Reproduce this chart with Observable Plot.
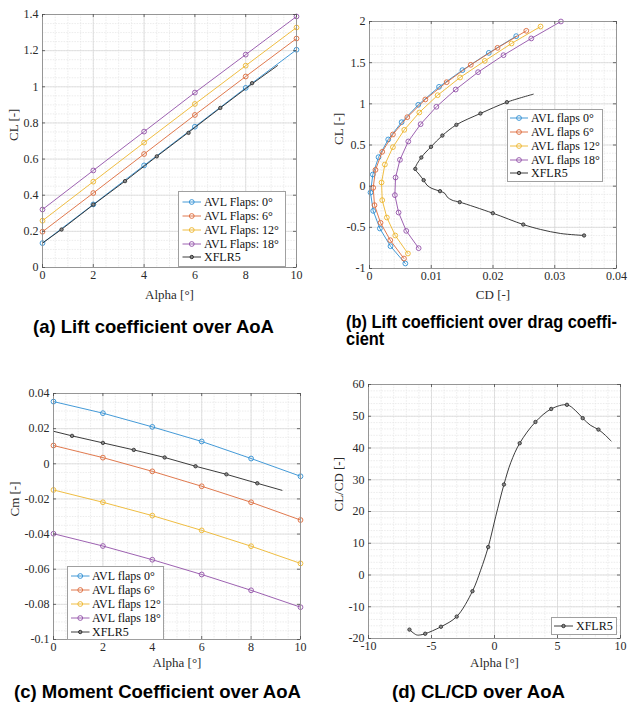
<!DOCTYPE html>
<html><head><meta charset="utf-8">
<script src="https://cdn.jsdelivr.net/npm/d3@7"></script>
<script src="https://cdn.jsdelivr.net/npm/@observablehq/plot@0.6"></script>
<style>
body{margin:0;background:#fff;}
#fig{position:relative;width:629px;height:706px;overflow:hidden;background:#fff;}
.panel{position:absolute;}
.cap{position:absolute;font-family:"Liberation Sans",Arial,Helvetica,sans-serif;font-weight:bold;font-size:18.5px;line-height:16px;white-space:nowrap;transform-origin:0 0;color:#000;}
.legend{position:absolute;background:#fff;border:1px solid #a0a0a0;box-sizing:border-box;font-family:"Liberation Serif","Times New Roman",serif;font-size:12px;color:#111;}
.legend .row{position:absolute;left:0;height:14px;line-height:14px;white-space:nowrap;}
.legend .row span{position:absolute;top:0;}
.legend svg{position:absolute;top:0;left:0;}
</style></head><body><div id="fig"></div><script>
// ---------- data ----------
const alphaAVL = [0, 2, 4, 6, 8, 10];
const clAVL0  = [0.135, 0.349, 0.565, 0.779, 0.994, 1.205];
const clAVL6  = [0.198, 0.412, 0.628, 0.844, 1.057, 1.267];
const clAVL12 = [0.259, 0.475, 0.691, 0.905, 1.117, 1.328];
const clAVL18 = [0.321, 0.537, 0.752, 0.968, 1.178, 1.389];

const cmAVL0  = [0.0354, 0.0288, 0.0210, 0.0127, 0.0030, -0.0071];
const cmAVL6  = [0.0104, 0.0035, -0.0043, -0.0128, -0.0219, -0.0320];
const cmAVL12 = [-0.0149, -0.0219, -0.0295, -0.0379, -0.0469, -0.0567];
const cmAVL18 = [-0.0398, -0.0468, -0.0546, -0.0630, -0.0720, -0.0816];

const polarCL0  = [1.822, 1.619, 1.409, 1.206, 0.988, 0.777, 0.567, 0.352, 0.142, -0.077, -0.300, -0.514, -0.729, -0.939];
const polarCD0  = [0.02376, 0.01932, 0.01505, 0.01126, 0.00790, 0.00520, 0.00303, 0.00146, 0.00054, 0.00016, 0.00060, 0.00168, 0.00340, 0.00580];
const polarCL6  = [1.887, 1.680, 1.474, 1.263, 1.053, 0.838, 0.628, 0.417, 0.198, -0.020, -0.231, -0.445, -0.656, -0.879];
const polarCD6  = [0.02539, 0.02073, 0.01640, 0.01250, 0.00904, 0.00612, 0.00379, 0.00206, 0.00097, 0.00060, 0.00081, 0.00179, 0.00336, 0.00558];
const polarCL12 = [1.939, 1.733, 1.522, 1.320, 1.105, 0.895, 0.684, 0.474, 0.263, 0.045, -0.170, -0.381, -0.599, -0.818];
const polarCD12 = [0.02770, 0.02300, 0.01867, 0.01467, 0.01104, 0.00807, 0.00563, 0.00379, 0.00249, 0.00195, 0.00206, 0.00281, 0.00417, 0.00622];
const polarCL18 = [2.000, 1.794, 1.591, 1.385, 1.174, 0.964, 0.753, 0.543, 0.320, 0.105, -0.109, -0.320, -0.543, -0.753];
const polarCD18 = [0.03100, 0.02620, 0.02170, 0.01759, 0.01396, 0.01083, 0.00828, 0.00628, 0.00493, 0.00422, 0.00411, 0.00471, 0.00595, 0.00796];

// XFLR5 marker points
const xflrAlpha = [-6.75, -5.5, -4.25, -3, -1.75, -0.5, 0.75, 2, 3.25, 4.5, 5.75, 7, 8.25];
const xflrCL = [-0.599, -0.466, -0.328, -0.194, -0.061, 0.073, 0.210, 0.348, 0.478, 0.615, 0.745, 0.883, 1.020];
const xflrCD = [0.03475, 0.02490, 0.01997, 0.01461, 0.01142, 0.00877, 0.00742, 0.00839, 0.00996, 0.01180, 0.01407, 0.01797, 0.02225];
const xflrLD = [-17.2, -18.5, -16.3, -13.1, -5.1, 8.8, 28.5, 41.5, 48.2, 52.3, 53.6, 49.4, 45.8];
const xflrCmAlpha = [0.75, 2, 3.25, 4.5, 5.75, 7, 8.25];
const xflrCm = [0.0159, 0.0119, 0.0079, 0.0036, -0.0014, -0.0060, -0.0111];

// XFLR5 continuous traces (as drawn)
const traceLiftAlpha = [0, 0.75, 2, 3.25, 4.5, 5.75, 7, 8.25, 9.25];
const traceLiftCL = [0.135, 0.211, 0.347, 0.478, 0.615, 0.748, 0.883, 1.016, 1.117];
const traceCmAlpha = [0, 0.75, 2, 3.25, 4.5, 5.75, 7, 8.25, 9.25];
const traceCm = [0.0185, 0.0159, 0.0119, 0.0079, 0.0036, -0.0014, -0.0060, -0.0111, -0.0151];
const tracePolarCD = [0.03475, 0.03096, 0.02771, 0.02490, 0.01997, 0.01461, 0.01337, 0.01256, 0.01223, 0.01142, 0.01012, 0.00931, 0.00877, 0.00801, 0.00742, 0.00839, 0.00996, 0.01180, 0.01407, 0.01797, 0.02225, 0.02652];
const tracePolarCL = [-0.599, -0.575, -0.526, -0.466, -0.328, -0.194, -0.170, -0.130, -0.089, -0.061, -0.028, 0.012, 0.073, 0.146, 0.210, 0.348, 0.478, 0.615, 0.745, 0.883, 1.020, 1.117];
const traceLDAlpha = [-6.75, -6.2, -5.85, -5.5, -4.25, -3, -1.75, -1.1, -0.5, 0.1, 0.75, 1.3, 2, 3.25, 4.5, 5.75, 6.4, 7, 7.6, 8.25, 8.8, 9.25];
const traceLD = [-17.2, -18.85, -18.85, -18.5, -16.3, -13.1, -5.1, 1.5, 8.8, 18.5, 28.5, 35.5, 41.5, 48.2, 52.3, 53.6, 51.9, 49.4, 47.2, 45.8, 44.0, 42.2];

// tick values
const ticksAlpha = [0, 2, 4, 6, 8, 10];
const ticksCL = [0, 0.2, 0.4, 0.6, 0.8, 1, 1.2, 1.4];
const ticksCD = [0, 0.01, 0.02, 0.03, 0.04];
const ticksPolarCL = [-1, -0.5, 0, 0.5, 1, 1.5, 2];
const ticksCm = [-0.1, -0.08, -0.06, -0.04, -0.02, 0, 0.02, 0.04];
const ticksAlphaWide = [-10, -5, 0, 5, 10];
const ticksLD = [-20, -10, 0, 10, 20, 30, 40, 50, 60];

const legendLabelsA = ["AVL Flaps: 0°", "AVL Flaps: 6°", "AVL Flaps: 12°", "AVL Flaps: 18°", "XFLR5"];
const legendLabelsB = ["AVL flaps 0°", "AVL flaps 6°", "AVL flaps 12°", "AVL flaps 18°", "XFLR5"];

// ---------- styling ----------
const colors = ["#2f8fd2", "#dd6a3a", "#edb62c", "#9250a8", "#262626"];
const XCOL = colors[4];
const minorRange = (a, b, s) => d3.range(Math.round((b - a) / s) + 1).map(i => +(a + i * s).toFixed(6));
const pts = (xs, ys) => xs.map((x, i) => ({x, y: ys[i]}));
const fmt = d => String(d);

function avlMarks(series) {
  const m = [];
  series.forEach(([xs, ys], k) => {
    const d = pts(xs, ys);
    m.push(Plot.line(d, {x: "x", y: "y", stroke: colors[k], strokeWidth: 0.9, clip: true}));
    m.push(Plot.dot(d, {x: "x", y: "y", r: 2.4, stroke: colors[k], strokeWidth: 0.9, fill: "none"}));
  });
  return m;
}
function xflrMarks(traceX, traceY, mx, my, curve) {
  return [
    Plot.line(pts(traceX, traceY), {x: "x", y: "y", stroke: XCOL, strokeWidth: 0.9, curve: curve || "linear", clip: true}),
    Plot.dot(pts(mx, my), {x: "x", y: "y", r: 1.7, stroke: XCOL, strokeWidth: 0.8, fill: "#8a8a8a", clip: true})
  ];
}

function panel(o) {
  const innerW = o.W - o.ml - o.mr, innerH = o.H - o.mt - o.mb;
  const tickCol = "#4a4a4a";
  return Plot.plot({
    width: o.W, height: o.H,
    marginLeft: o.ml, marginRight: o.mr, marginTop: o.mt, marginBottom: o.mb,
    x: {domain: o.xDomain}, y: {domain: o.yDomain},
    style: {fontFamily: '"Liberation Serif", "Times New Roman", serif', fontSize: "12px", background: "transparent", color: "#2a2a2a"},
    marks: [
      Plot.gridX(o.xMinor, {stroke: "#e4e4e4", strokeOpacity: 1, strokeWidth: 0.7, strokeDasharray: "1.5,1.2"}),
      Plot.gridY(o.yMinor, {stroke: "#e4e4e4", strokeOpacity: 1, strokeWidth: 0.7, strokeDasharray: "1.5,1.2"}),
      Plot.gridX(o.xTicks, {stroke: "#d6d6d6", strokeOpacity: 1, strokeWidth: 0.7}),
      Plot.gridY(o.yTicks, {stroke: "#d6d6d6", strokeOpacity: 1, strokeWidth: 0.7}),
      ...o.marks,
      Plot.frame({stroke: "#8f8f8f", strokeWidth: 0.9}),
      Plot.tickX(o.xTicks, {x: d => d, insetTop: innerH - 3, stroke: tickCol, strokeWidth: 0.8}),
      Plot.tickX(o.xTicks, {x: d => d, insetBottom: innerH - 3, stroke: tickCol, strokeWidth: 0.8}),
      Plot.tickY(o.yTicks, {y: d => d, insetRight: innerW - 3, stroke: tickCol, strokeWidth: 0.8}),
      Plot.tickY(o.yTicks, {y: d => d, insetLeft: innerW - 3, stroke: tickCol, strokeWidth: 0.8}),
      Plot.axisX(o.xTicks, {tickSize: 0, tickPadding: 3, tickFormat: fmt, label: null}),
      Plot.axisY(o.yTicks, {tickSize: 0, tickPadding: 4, tickFormat: fmt, label: null}),
      Plot.text([o.xLabel], {text: d => d, frameAnchor: "bottom", dy: o.xLabelDy, fontSize: 13, lineAnchor: "middle", fill: "#2a2a2a"}),
      Plot.text([o.yLabel], {text: d => d, frameAnchor: "left", dx: o.yLabelDx, rotate: -90, fontSize: 13, lineAnchor: "middle", fill: "#2a2a2a"})
    ]
  });
}

const fig = document.getElementById("fig");
function place(el, left, top) {
  const d = document.createElement("div");
  d.className = "panel"; d.style.left = left + "px"; d.style.top = top + "px";
  d.appendChild(el); fig.appendChild(d);
}

// (a)
place(panel({
  W: 310, H: 312, ml: 42, mr: 14, mt: 14, mb: 45,
  xDomain: [0, 10], yDomain: [0, 1.4],
  xTicks: ticksAlpha, yTicks: ticksCL,
  xMinor: minorRange(0, 10, 0.5), yMinor: minorRange(0, 1.4, 0.05),
  xLabel: "Alpha [°]", yLabel: "CL [-]", xLabelDy: 27, yLabelDx: -29,
  marks: [
    ...avlMarks([[alphaAVL, clAVL0], [alphaAVL, clAVL6], [alphaAVL, clAVL12], [alphaAVL, clAVL18]]),
    ...xflrMarks(traceLiftAlpha, traceLiftCL, xflrAlpha, xflrCL)
  ]
}), 0, 0);

// (b)
place(panel({
  W: 319, H: 312, ml: 59, mr: 13, mt: 21, mb: 44,
  xDomain: [0, 0.04], yDomain: [-1, 2],
  xTicks: ticksCD, yTicks: ticksPolarCL,
  xMinor: minorRange(0, 0.04, 0.002), yMinor: minorRange(-1, 2, 0.1),
  xLabel: "CD [-]", yLabel: "CL [-]", xLabelDy: 26, yLabelDx: -31,
  marks: [
    ...avlMarks([[polarCD0, polarCL0], [polarCD6, polarCL6], [polarCD12, polarCL12], [polarCD18, polarCL18]]),
    ...xflrMarks(tracePolarCD, tracePolarCL, xflrCD, xflrCL, "catmull-rom")
  ]
}), 310, 0);

// (c)
place(panel({
  W: 310, H: 320, ml: 53, mr: 10, mt: 33, mb: 41,
  xDomain: [0, 10], yDomain: [-0.1, 0.04],
  xTicks: ticksAlpha, yTicks: ticksCm,
  xMinor: minorRange(0, 10, 0.5), yMinor: minorRange(-0.1, 0.04, 0.005),
  xLabel: "Alpha [°]", yLabel: "Cm [-]", xLabelDy: 23, yLabelDx: -39,
  marks: [
    ...avlMarks([[alphaAVL, cmAVL0], [alphaAVL, cmAVL6], [alphaAVL, cmAVL12], [alphaAVL, cmAVL18]]),
    ...xflrMarks(traceCmAlpha, traceCm, xflrCmAlpha, xflrCm)
  ]
}), 0, 360);

// (d)
place(panel({
  W: 319, H: 320, ml: 58, mr: 9, mt: 24, mb: 42,
  xDomain: [-10, 10], yDomain: [-20, 60],
  xTicks: ticksAlphaWide, yTicks: ticksLD,
  xMinor: minorRange(-10, 10, 1), yMinor: minorRange(-20, 60, 2),
  xLabel: "Alpha [°]", yLabel: "CL/CD [-]", xLabelDy: 24, yLabelDx: -30,
  marks: [
    ...xflrMarks(traceLDAlpha, traceLD, xflrAlpha, xflrLD, "catmull-rom")
  ]
}), 310, 360);

// ---------- legends ----------
function legend(cfg) {
  const box = document.createElement("div");
  box.className = "legend";
  Object.assign(box.style, {left: cfg.left + "px", top: cfg.top + "px", width: cfg.width + "px", height: cfg.height + "px"});
  cfg.items.forEach((it, i) => {
    const row = document.createElement("div");
    row.className = "row";
    row.style.top = (cfg.rowY[i] - 7 - 1) + "px";
    row.style.width = "100%";
    const ns = "http://www.w3.org/2000/svg";
    const svg = document.createElementNS(ns, "svg");
    svg.setAttribute("width", 26); svg.setAttribute("height", 14);
    const ln = document.createElementNS(ns, "line");
    ln.setAttribute("x1", cfg.lx1); ln.setAttribute("x2", cfg.lx2);
    ln.setAttribute("y1", 7); ln.setAttribute("y2", 7);
    ln.setAttribute("stroke", it.color); ln.setAttribute("stroke-width", 0.9);
    svg.appendChild(ln);
    const c = document.createElementNS(ns, "circle");
    c.setAttribute("cx", (cfg.lx1 + cfg.lx2) / 2); c.setAttribute("cy", 7);
    c.setAttribute("r", it.x ? 1.7 : 2.4);
    c.setAttribute("stroke", it.color); c.setAttribute("stroke-width", 0.9);
    c.setAttribute("fill", it.x ? "#8a8a8a" : "none");
    svg.appendChild(c);
    row.appendChild(svg);
    const t = document.createElement("span");
    t.textContent = it.label; t.style.left = cfg.tx + "px";
    row.appendChild(t);
    box.appendChild(row);
  });
  fig.appendChild(box);
}
const itemsOf = labels => labels.map((l, i) => ({label: l, color: colors[i], x: i === 4}));
legend({left: 178, top: 191, width: 108, height: 76, rowY: [10.5, 24.5, 38.5, 52.5, 66], lx1: 3.5, lx2: 22, tx: 25, items: itemsOf(legendLabelsA)});
legend({left: 507, top: 109, width: 96, height: 73, rowY: [8.5, 22.5, 36.5, 50.5, 64], lx1: 2, lx2: 20, tx: 23, items: itemsOf(legendLabelsB)});
legend({left: 67, top: 566, width: 97, height: 74, rowY: [10, 24, 38, 52, 65.5], lx1: 3, lx2: 21.5, tx: 24, items: itemsOf(legendLabelsB)});
legend({left: 551, top: 617, width: 66, height: 18, rowY: [8.5], lx1: 2, lx2: 21, tx: 24, items: [{label: "XFLR5", color: XCOL, x: true}]});

// ---------- captions ----------
function caption(text, left, baseline, targetW, scale) {
  const d = document.createElement("div");
  d.className = "cap"; d.textContent = text;
  d.style.left = left + "px"; d.style.top = (baseline - 14.4) + "px";
  fig.appendChild(d);
  const w = d.getBoundingClientRect().width;
  const s = scale || (targetW / w);
  d.style.transform = `scaleX(${s})`;
  return s;
}
caption("(a) Lift coefficient over AoA", 33, 333, 241);
const sb = caption("(b) Lift coefficient over drag coeffi-", 346, 328, 271);
caption("cient", 346, 345, null, sb);
caption("(c) Moment Coefficient over AoA", 14, 698, 287);
caption("(d) CL/CD over AoA", 392, 698, 173);
</script></body></html>
